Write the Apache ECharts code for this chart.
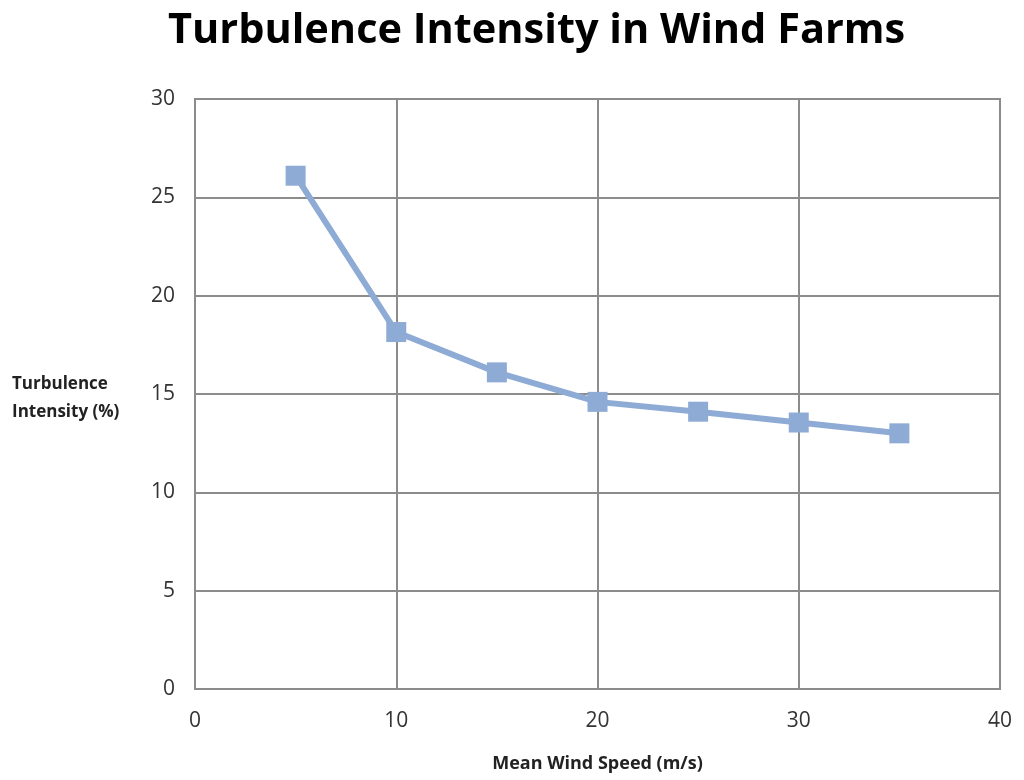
<!DOCTYPE html>
<html>
<head>
<meta charset="utf-8">
<script src="https://cdn.jsdelivr.net/npm/echarts@6/dist/echarts.min.js"></script>
<style>html,body{margin:0;padding:0;background:#fff}#c{width:1024px;height:780px}</style>
</head>
<body>
<div id="c"></div>
<script>
const windSpeed = [5, 10, 15, 20, 25, 30, 35];
const turbulence = [26.1, 18.15, 16.1, 14.6, 14.1, 13.55, 13.0];
const titleText = 'Turbulence Intensity in Wind Farms';
const xName = 'Mean Wind Speed (m/s)';
const yName = 'Turbulence\nIntensity (%)';

const font = '"Open Sans", sans-serif';
const chart = echarts.init(document.getElementById('c'));
chart.setOption({
  animation: false,
  title: {
    text: titleText, left: 163, top: 5,
    textStyle: {fontFamily: font, fontSize: 41.5, fontWeight: 'bold', color: '#000'}
  },
  grid: {left: 195, right: 24, top: 99, bottom: 91},
  xAxis: {
    type: 'value', min: 0, max: 40, interval: 10,
    name: xName, nameLocation: 'middle', nameGap: 66,
    nameTextStyle: {fontFamily: font, fontSize: 18, fontWeight: 'bold', color: '#222'},
    axisLine: {show: true, lineStyle: {color: '#8c8c8c', width: 2}},
    axisTick: {show: false},
    axisLabel: {fontFamily: font, fontSize: 21, color: '#333', margin: 22},
    splitLine: {show: true, lineStyle: {color: '#8c8c8c', width: 2}}
  },
  yAxis: {
    type: 'value', min: 0, max: 30, interval: 5,
    axisLine: {show: true, lineStyle: {color: '#8c8c8c', width: 2}},
    axisTick: {show: false},
    axisLabel: {fontFamily: font, fontSize: 21, color: '#333', margin: 20},
    splitLine: {show: true, lineStyle: {color: '#8c8c8c', width: 2}}
  },
  graphic: [
    {type: 'rect', shape: {x: 195, y: 99, width: 805, height: 590}, style: {fill: 'none', stroke: '#8c8c8c', lineWidth: 2}, silent: true},
    {type: 'text', left: 12, top: 370, style: {text: yName, fontFamily: font, fontSize: 17, fontWeight: 'bold', fill: '#222', lineHeight: 28}}
  ],
  series: [{
    type: 'line',
    data: windSpeed.map((x, i) => [x, turbulence[i]]),
    symbol: 'rect', symbolSize: 20,
    lineStyle: {color: '#8eabd5', width: 6},
    itemStyle: {color: '#8eabd5'}
  }]
});
</script>
</body>
</html>
